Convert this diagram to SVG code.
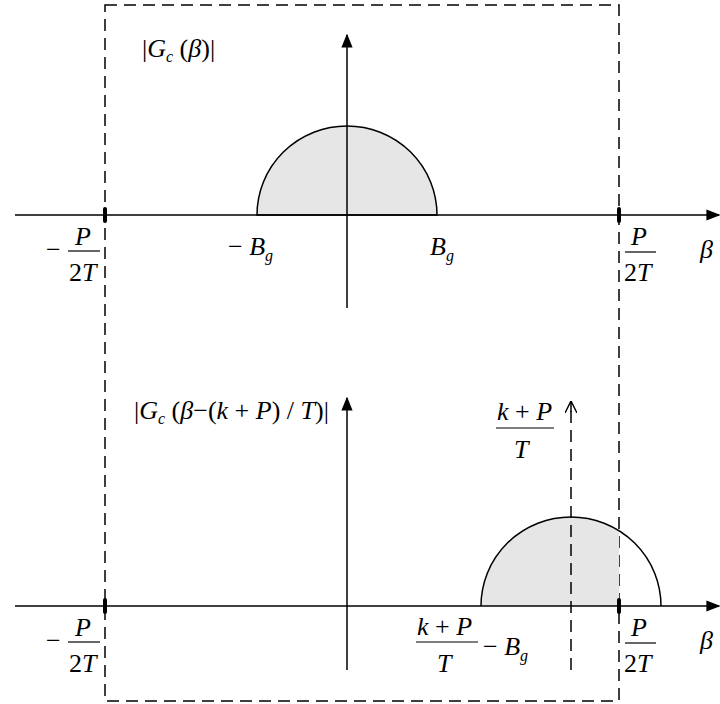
<svg xmlns="http://www.w3.org/2000/svg" width="720" height="704" viewBox="0 0 720 704">
<style>
.ln{stroke:#000;stroke-width:1.5;fill:none}
.dash{stroke:#000;stroke-width:1.5;fill:none;stroke-dasharray:12,7}
.t{font-family:"Liberation Serif","Times New Roman",serif;font-size:26px;fill:#000}
.i{font-style:italic}
.s{font-size:16px;font-style:italic}
.half{fill:#e6e6e6;stroke:#000;stroke-width:1.5}
.tick{stroke:#000;stroke-width:4;stroke-linecap:round}
</style>
<defs>
<marker id="ah2" viewBox="0 0 10 10" refX="9" refY="5" markerWidth="14" markerHeight="14" markerUnits="userSpaceOnUse" orient="auto"><path d="M0,1 L10,5 L0,9 Z" fill="#000"/></marker>
<marker id="open" viewBox="0 0 10 10" refX="10" refY="5" markerWidth="12" markerHeight="12" markerUnits="userSpaceOnUse" orient="auto"><path d="M0,0 L10,5 L0,10" fill="none" stroke="#000" stroke-width="1.2"/></marker>
<clipPath id="clipR"><rect x="0" y="0" width="619" height="704"/></clipPath>
</defs>

<g id="frame"><rect x="105" y="5" width="514" height="696" class="dash"/></g>

<g id="top-plot">
<path d="M257,215 A90,89 0 0 1 437,215 Z" class="half"/>
</g>
<g id="bottom-plot">
<path d="M481,606 A90,89 0 0 1 661,606 Z" fill="#e6e6e6" clip-path="url(#clipR)"/>
<path d="M481,606 A90,89 0 0 1 661,606" class="ln"/>
</g>

<g id="connectors">
<line x1="15" y1="215" x2="719" y2="215" class="ln" marker-end="url(#ah2)"/>
<line x1="347" y1="308" x2="347" y2="35" class="ln" marker-end="url(#ah2)"/>
<line x1="15" y1="606" x2="719" y2="606" class="ln" marker-end="url(#ah2)"/>
<line x1="347" y1="670" x2="347" y2="398" class="ln" marker-end="url(#ah2)"/>
<line x1="571" y1="670" x2="571" y2="401" class="dash" stroke-dasharray="11,7"/>
<line x1="571" y1="412" x2="571" y2="401" class="ln" marker-end="url(#open)"/>
<line x1="105" y1="209" x2="105" y2="221" class="tick"/>
<line x1="619" y1="209" x2="619" y2="221" class="tick"/>
<line x1="105" y1="600" x2="105" y2="612" class="tick"/>
<line x1="619" y1="600" x2="619" y2="612" class="tick"/>
</g>

<g id="labels-top">
<text x="142" y="57" class="t">|<tspan class="i">G</tspan><tspan class="s" dy="5">c</tspan><tspan dy="-5"> (</tspan><tspan class="i">β</tspan>)|</text>
<text x="46" y="258" class="t">−</text>
<text x="75" y="245" class="t i">P</text>
<line x1="68" y1="251" x2="100" y2="251" stroke="#000" stroke-width="1.2"/>
<text x="69" y="281" class="t">2<tspan class="i">T</tspan></text>
<text x="228" y="255" class="t">− <tspan class="i">B</tspan><tspan class="s" dy="6">g</tspan></text>
<text x="430" y="255" class="t i">B<tspan class="s" dy="6">g</tspan></text>
<text x="631" y="245" class="t i">P</text>
<line x1="625" y1="252" x2="656" y2="252" stroke="#000" stroke-width="1.2"/>
<text x="624" y="281" class="t">2<tspan class="i">T</tspan></text>
<text x="700" y="258" class="t i">β</text>
</g>

<g id="labels-bottom">
<text x="134" y="419" class="t">|<tspan class="i">G</tspan><tspan class="s" dy="5">c</tspan><tspan dy="-5"> (</tspan><tspan class="i">β</tspan>−(<tspan class="i">k</tspan> + <tspan class="i">P</tspan>) / <tspan class="i">T</tspan>)|</text>
<text x="497" y="420" class="t"><tspan class="i">k</tspan> + <tspan class="i">P</tspan></text>
<line x1="496" y1="428" x2="554" y2="428" stroke="#000" stroke-width="1.2"/>
<text x="514" y="458" class="t i">T</text>
<text x="46" y="649" class="t">−</text>
<text x="75" y="636" class="t i">P</text>
<line x1="68" y1="642" x2="100" y2="642" stroke="#000" stroke-width="1.2"/>
<text x="69" y="672" class="t">2<tspan class="i">T</tspan></text>
<text x="417" y="635" class="t"><tspan class="i">k</tspan> + <tspan class="i">P</tspan></text>
<line x1="416" y1="642" x2="478" y2="642" stroke="#000" stroke-width="1.2"/>
<text x="437" y="672" class="t i">T</text>
<text x="483" y="655" class="t">− <tspan class="i">B</tspan><tspan class="s" dy="6">g</tspan></text>
<text x="631" y="636" class="t i">P</text>
<line x1="625" y1="643" x2="656" y2="643" stroke="#000" stroke-width="1.2"/>
<text x="624" y="672" class="t">2<tspan class="i">T</tspan></text>
<text x="700" y="649" class="t i">β</text>
</g>
</svg>
